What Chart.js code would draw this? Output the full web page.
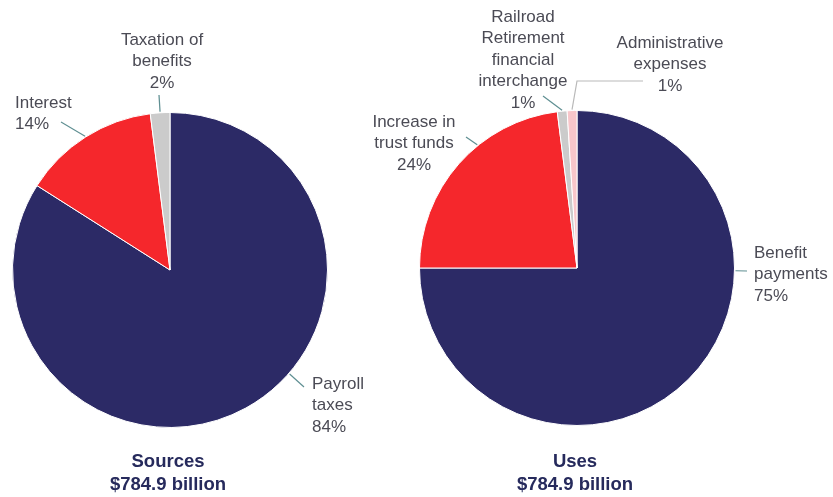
<!DOCTYPE html>
<html>
<head>
<meta charset="utf-8">
<script src="https://cdn.jsdelivr.net/npm/chart.js@4"></script>
<style>
  body { margin: 0; background: #fff; }
  #wrap { position: relative; width: 833px; height: 497px; }
  #wrap canvas { position: absolute; left: 0; top: 0; }
</style>
</head>
<body>
<div id="wrap">
  <canvas id="sources" width="833" height="497"></canvas>
  <canvas id="uses" width="833" height="497"></canvas>
</div>
<script>
// data
const sourceNames = [['Payroll', 'taxes'], ['Interest'], ['Taxation of', 'benefits']];
const sourceValues = [84, 14, 2];
const sourcePct = ['84%', '14%', '2%'];

const useNames = [['Benefit', 'payments'], ['Increase in', 'trust funds'], ['Railroad', 'Retirement', 'financial', 'interchange'], ['Administrative', 'expenses']];
const useValues = [75, 23, 1, 1];
const usePct = ['75%', '24%', '1%', '1%'];

const titles = ['Sources', 'Uses'];
const totals = ['$784.9 billion', '$784.9 billion'];

const sourceColors = ['#2c2a66', '#f5272c', '#cbcbcb'];
const useColors = ['#2c2a66', '#f5272c', '#cbcbcb', '#f8c6ca'];

// where the texts go (x, y of first line, align), leader angle (deg from top, null = mid of slice) and leader points
const sourceLayout = [
  {x: 312, y: 384, align: 'left', angle: 131, leader: [[304, 387]]},
  {x: 15, y: 103, align: 'left', angle: null, leader: [[61, 122]]},
  {x: 162, y: 40, align: 'center', angle: null, leader: [[159, 95]]}
];
const useLayout = [
  {x: 754, y: 253, align: 'left', angle: 91, leader: [[747, 271]]},
  {x: 414, y: 122, align: 'center', angle: 321, leader: [[466, 137]]},
  {x: 523, y: 17, align: 'center', angle: null, leader: [[543, 96]]},
  {x: 670, y: 43, align: 'center', angle: null, leader: [[577, 81], [643, 81]], lineColor: '#b9b9b9'}
];

const lineH = 21.5;

const labelPlugin = {
  id: 'pieLabels',
  afterDraw(chart, args, opts) {
    const ctx = chart.ctx;
    const arcs = chart.getDatasetMeta(0).data;
    ctx.save();
    arcs.forEach((arc, i) => {
      const lay = opts.layout[i];
      const p = arc.getProps(['x', 'y', 'startAngle', 'endAngle', 'outerRadius'], true);
      let a = lay.angle === null ? (p.startAngle + p.endAngle) / 2 : (lay.angle - 90) * Math.PI / 180;
      const r = p.outerRadius + 1;
      ctx.beginPath();
      ctx.strokeStyle = lay.lineColor || '#5f8f92';
      ctx.lineWidth = 1.2;
      ctx.moveTo(p.x + r * Math.cos(a), p.y + r * Math.sin(a));
      lay.leader.forEach(pt => ctx.lineTo(pt[0], pt[1]));
      ctx.stroke();

      const lines = opts.names[i].concat([opts.pct[i]]);
      ctx.font = '17px "Liberation Sans", Arial, sans-serif';
      ctx.fillStyle = '#4b4b55';
      ctx.textAlign = lay.align;
      ctx.textBaseline = 'middle';
      lines.forEach((t, k) => ctx.fillText(t, lay.x, lay.y + k * lineH));
    });
    // title under the pie
    const cx = arcs[0].x;
    ctx.font = 'bold 18.5px "Liberation Sans", Arial, sans-serif';
    ctx.fillStyle = '#262a5c';
    ctx.textAlign = 'center';
    ctx.textBaseline = 'middle';
    ctx.fillText(opts.title, cx - 2, 462);
    ctx.fillText(opts.total, cx - 2, 485);
    ctx.restore();
  }
};

function CreatePie(canva, values, colors, padding, names, pct, layout, title, total) {
  let ctx = document.getElementById(canva);
  return new Chart(ctx, {
    type: 'pie',
    data: {
      labels: names.map(n => n.join(' ')),
      datasets: [{
        data: values,
        backgroundColor: colors,
        borderColor: '#ffffff',
        borderWidth: 1
      }]
    },
    options: {
      responsive: false,
      animation: false,
      events: [],
      layout: { padding: padding },
      plugins: {
        legend: { display: false },
        tooltip: { enabled: false },
        pieLabels: { names: names, pct: pct, layout: layout, title: title, total: total }
      }
    },
    plugins: [labelPlugin]
  });
}

CreatePie('sources', sourceValues, sourceColors, {left: 12, right: 505, top: 112, bottom: 69},
  sourceNames, sourcePct, sourceLayout, titles[0], totals[0]);
CreatePie('uses', useValues, useColors, {left: 419, right: 98, top: 110, bottom: 71},
  useNames, usePct, useLayout, titles[1], totals[1]);
</script>
</body>
</html>
